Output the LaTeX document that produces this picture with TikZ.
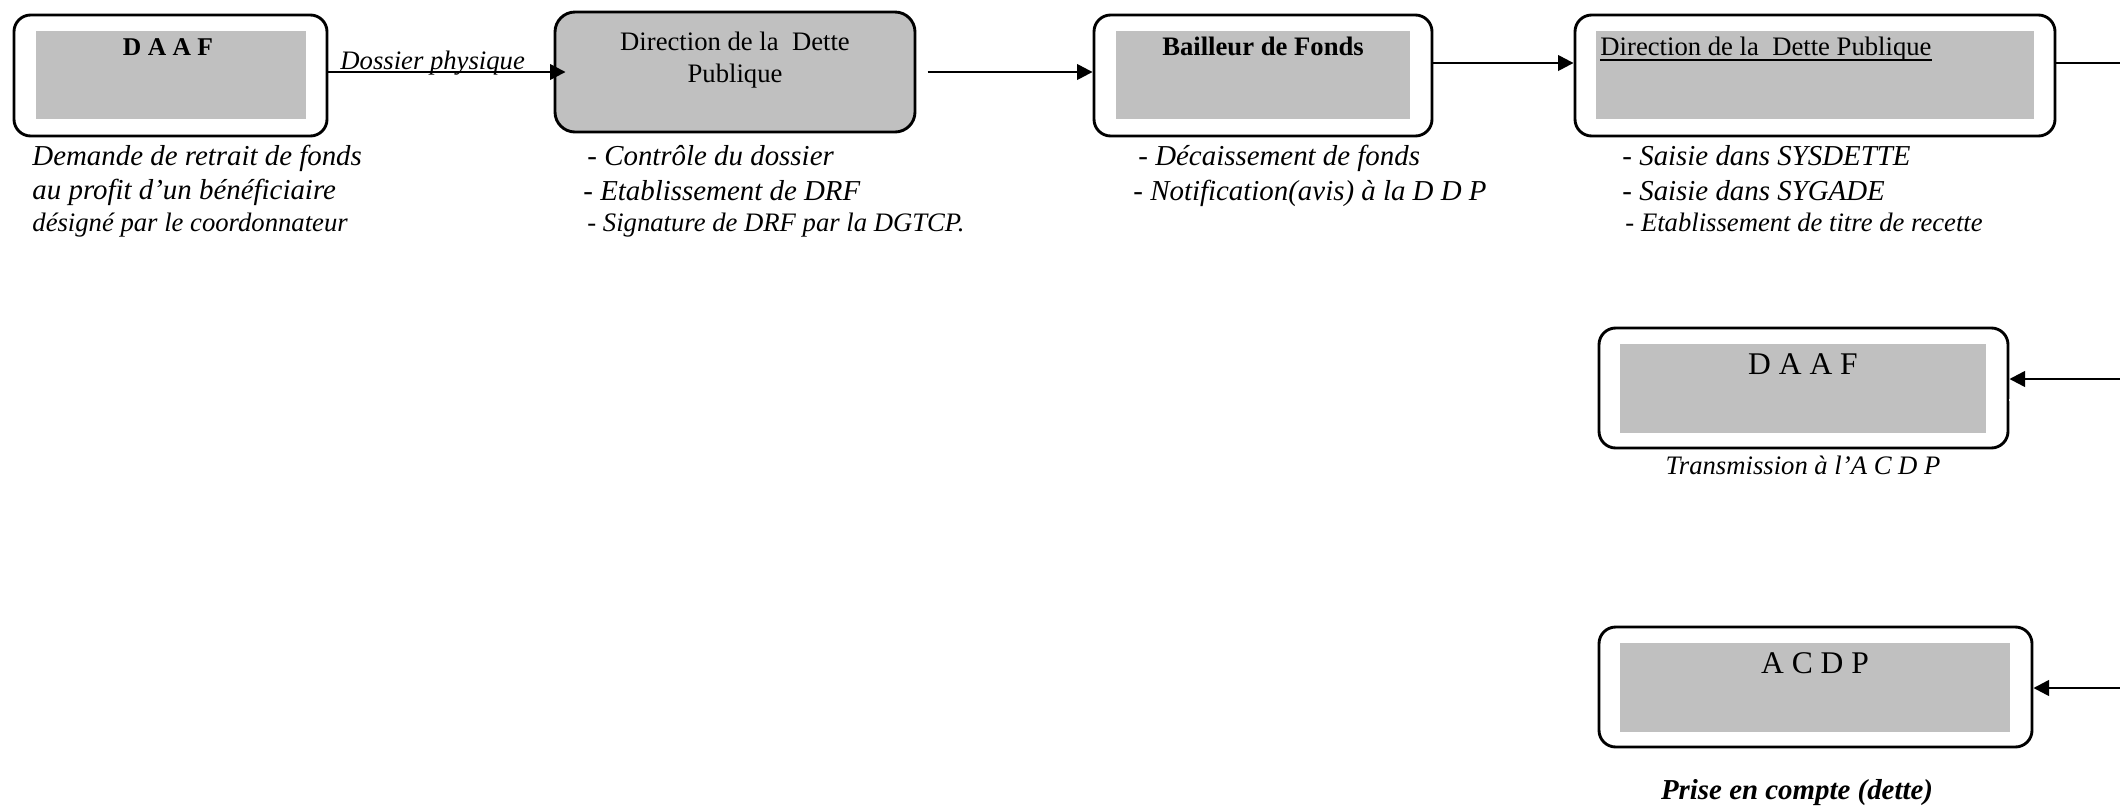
\documentclass[tikz,border=0pt]{standalone}
\usepackage{fontspec}
\setmainfont{Liberation Serif}
\usetikzlibrary{fit,arrows.meta}
\definecolor{gris}{RGB}{192,192,192}
\tikzset{
  boite/.style={draw,line width=1.3pt,rounded corners=7.5pt,fill=white,inner sep=0pt},
  fond/.style={fill=gris,inner sep=0pt},
  fleche/.style={line width=1.1pt,-{Triangle[length=7pt,width=7pt]}},
  titre/.style={anchor=base,inner sep=0pt,font=\fontsize{12}{14}\selectfont},
  gros/.style={anchor=base west,inner sep=0pt,font=\fontsize{13}{15}\selectfont\itshape},
  petit/.style={anchor=base west,inner sep=0pt,font=\fontsize{12}{14}\selectfont\itshape},
}

\begin{document}
\begin{tikzpicture}[x=0.45pt,y=-0.45pt]
\useasboundingbox (0,0) rectangle (2120,808);
% ligne du haut
\node[boite,fit={(14,15) (327,136)}] (daaf) {};
\node[fond,fit={(36,31) (306,119)}] (daaf-g) {};
\node[titre,font=\fontsize{11.5}{13}\selectfont\bfseries] (daaf-t) at (168,55) {D A A F};
\node[gros] (daaf-1) at (32,165) {Demande de retrait de fonds};
\node[gros] (daaf-2) at (32,199) {au profit d’un bénéficiaire};
\node[petit] (daaf-3) at (32,231) {désigné par le coordonnateur};

\node[boite,fill=gris,rounded corners=9pt,fit={(555,12) (915,132)}] (ddp) {};
\node[titre,align=center] (ddp-t) at (735,82) {Direction de la\ \ Dette\\Publique};
\node[gros] (ddp-1) at (587,165) {- Contrôle du dossier};
\node[gros] (ddp-2) at (583,200) {- Etablissement de DRF};
\node[petit] (ddp-3) at (587,231) {- Signature de DRF par la DGTCP.};

\node[boite,fit={(1094,15) (1432,136)}] (bf) {};
\node[fond,fit={(1116,31) (1410,119)}] (bf-g) {};
\node[titre,font=\fontsize{12}{14}\selectfont\bfseries] (bf-t) at (1263,55) {Bailleur de Fonds};
\node[gros] (bf-1) at (1138,165) {- Décaissement de fonds};
\node[gros] (bf-2) at (1133,200) {- Notification(avis) à la D D P};

\node[boite,fit={(1575,15) (2055,136)}] (ddp2) {};
\node[fond,fit={(1596,31) (2034,119)}] (ddp2-g) {};
\node[titre,anchor=base west] (ddp2-t) at (1600,55) {Direction de la\ \ Dette Publique};
\draw[line width=0.6pt] ([yshift=-2.3pt]ddp2-t.base west) -- ([yshift=-2.3pt]ddp2-t.base east);
\node[gros] (ddp2-1) at (1622,165) {- Saisie dans SYSDETTE};
\node[gros] (ddp2-2) at (1622,200) {- Saisie dans SYGADE};
\node[petit] (ddp2-3) at (1625,231) {- Etablissement de titre de recette};

% colonne de droite
\node[boite,fit={(1599,328) (2008,448)}] (daaf2) {};
\node[fond,fit={(1620,344) (1986,433)}] (daaf2-g) {};
\node[titre,font=\fontsize{14.2}{16}\selectfont] (daaf2-t) at (1803,374) {D A A F};
\node[petit,anchor=base] (daaf2-1) at (1803,474) {Transmission à l’A C D P};

\node[boite,fit={(1599,627) (2032,747)}] (acdp) {};
\node[fond,fit={(1620,643) (2010,732)}] (acdp-g) {};
\node[titre,font=\fontsize{14.2}{16}\selectfont] (acdp-t) at (1815,673) {A C D P};
\node[gros,anchor=base,font=\fontsize{13}{15}\selectfont\bfseries\itshape] (acdp-1) at (1797,799) {Prise en compte (dette)};

\coordinate (bord1) at (2120,63);
\coordinate (bord2) at (2120,379);
\coordinate (bord3) at (2120,400);
\coordinate (bord4) at (2120,688);

% fleches
\draw[fleche,shorten >=-5.4pt] (daaf.east |- ddp.west) -- (ddp.west);
\node[petit] (dossier) at (340,69) {Dossier physique};
\draw[fleche,shorten <=5pt] (ddp.east) -- (ddp.east -| bf.west);
\draw[fleche] (bf.east |- bord1) -- (bord1 -| ddp2.west);
\draw[line width=0.9pt] (ddp2.east |- bord1) -- (bord1);
\draw[fleche] (bord2) -- (bord2 -| daaf2.east);
\draw[line width=0.35pt,double,double distance=0.5pt] (daaf2.east |- bord3) -- (bord3);
\draw[fleche] (bord4) -- (bord4 -| acdp.east);
\end{tikzpicture}
\end{document}
